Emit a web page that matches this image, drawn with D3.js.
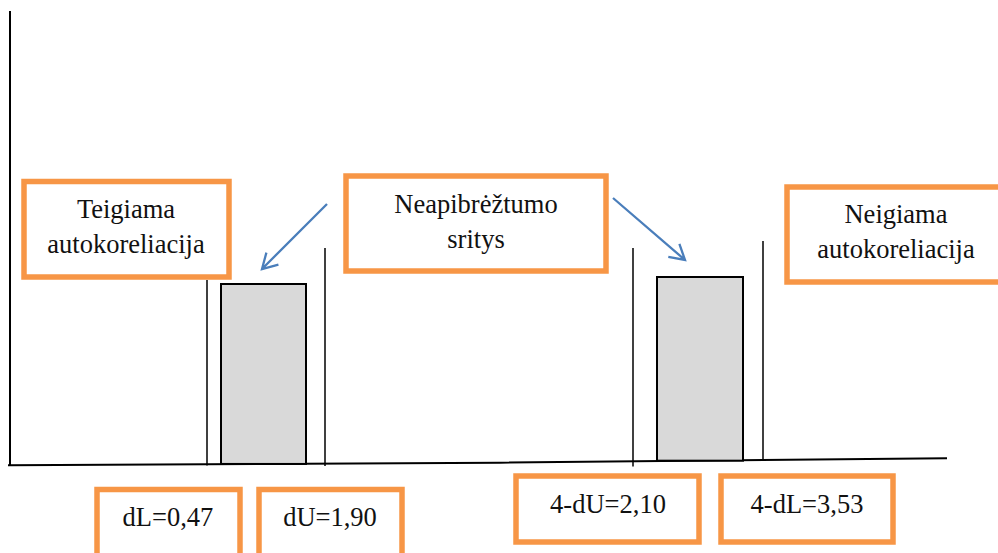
<!DOCTYPE html>
<html>
<head>
<meta charset="utf-8">
<script src="https://cdn.jsdelivr.net/npm/d3@7"></script>
<style>
  body { margin: 0; background: #fff; }
</style>
</head>
<body>
<div id="chart"></div>
<script>
// Durbin-Watson critical values
const criticalNames = ["dL", "dU", "4-dU", "4-dL"];
const criticalValues = [0.47, 1.90, 2.10, 3.53];
const regionLabels = [
  ["Teigiama", "autokoreliacija"],
  ["Neapibrėžtumo", "sritys"],
  ["Neigiama", "autokoreliacija"]
];
const uncertainZones = [["dL", "dU"], ["4-dU", "4-dL"]];

const width = 998, height = 553;
const orange = "#F79646", blue = "#4A7EBB";
const serif = "'Liberation Serif', 'Times New Roman', Times, serif";

// schematic (not to scale) position of the DW statistic
const x = d3.scaleLinear()
  .domain([0, ...criticalValues, 4])
  .range([10, 207, 325, 633, 763, 947]);

// hand drawn base line sags slightly to the right
const baseY = d3.scaleLinear()
  .domain([8, 500, 947])
  .range([465.3, 462.7, 458.2]);

const lineTops = [280, 248, 248, 241];
const lineBottoms = [465.5, 466, 466.5, 459.5];
const zoneInsets = [[14, 19], [24, 20]];
const zoneTops = [284, 277];

const regionBoxes = [
  { x: 24, y: 181.5, w: 205, h: 95.5, tx: 126, ty: [218, 253] },
  { x: 346, y: 176, w: 260, h: 95, tx: 476, ty: [213, 248] },
  { x: 787, y: 187, w: 222, h: 95, tx: 896, ty: [223, 258] }
];
const valueBoxes = [
  { x: 97, y: 489.5, w: 143, h: 80, tx: 168, ty: 526 },
  { x: 259, y: 489.5, w: 143, h: 80, tx: 330, ty: 526 },
  { x: 516, y: 476, w: 183, h: 66, tx: 608, ty: 513 },
  { x: 721, y: 476, w: 172, h: 66, tx: 807, ty: 513 }
];
const arrows = [
  { from: [327, 204], to: [262, 269] },
  { from: [613, 198], to: [685, 260] }
];

const fmt = d3.formatLocale({ decimal: ",", thousands: " ", grouping: [3], currency: ["", ""] }).format(".2f");

const svg = d3.select("#chart")
  .append("svg")
  .attr("width", width)
  .attr("height", height)
  .style("display", "block");

// axes
svg.append("line")
  .attr("x1", 10).attr("x2", 10)
  .attr("y1", 11).attr("y2", 466)
  .attr("stroke", "#000")
  .attr("stroke-width", 2);

svg.append("path")
  .attr("d", d3.line()([[8, baseY(8)], [500, baseY(500)], [947, baseY(947)]]))
  .attr("fill", "none")
  .attr("stroke", "#000")
  .attr("stroke-width", 2);

// zones of uncertainty
uncertainZones.forEach((z, i) => {
  const x0 = x(criticalValues[criticalNames.indexOf(z[0])]) + zoneInsets[i][0];
  const x1 = x(criticalValues[criticalNames.indexOf(z[1])]) - zoneInsets[i][1];
  svg.append("rect")
    .attr("x", x0)
    .attr("y", zoneTops[i])
    .attr("width", x1 - x0)
    .attr("height", baseY((x0 + x1) / 2) - zoneTops[i])
    .attr("fill", "#D9D9D9")
    .attr("stroke", "#000")
    .attr("stroke-width", 2);
});

// critical value lines
svg.selectAll(".crit")
  .data(criticalValues)
  .join("line")
  .attr("class", "crit")
  .attr("x1", d => x(d)).attr("x2", d => x(d))
  .attr("y1", (d, i) => lineTops[i])
  .attr("y2", (d, i) => lineBottoms[i])
  .attr("stroke", "#000")
  .attr("stroke-width", 1.5);

// arrows
arrows.forEach(a => {
  const [x0, y0] = a.from, [x1, y1] = a.to;
  const ang = Math.atan2(y0 - y1, x0 - x1);
  const len = 17, spread = Math.PI / 6;
  const barb = s => [x1 + len * Math.cos(ang + s), y1 + len * Math.sin(ang + s)];
  svg.append("path")
    .attr("d", `M${x0},${y0}L${x1},${y1}M${barb(spread)}L${x1},${y1}L${barb(-spread)}`)
    .attr("fill", "none")
    .attr("stroke", blue)
    .attr("stroke-width", 2.3);
});

// region labels
regionLabels.forEach((lines, i) => {
  const b = regionBoxes[i];
  svg.append("rect")
    .attr("x", b.x).attr("y", b.y)
    .attr("width", b.w).attr("height", b.h)
    .attr("fill", "#fff")
    .attr("stroke", orange)
    .attr("stroke-width", 5.5);
  lines.forEach((t, j) => {
    svg.append("text")
      .attr("x", b.tx)
      .attr("y", b.ty[j])
      .attr("text-anchor", "middle")
      .attr("font-family", serif)
      .attr("font-size", "26.5px")
      .attr("fill", "#111")
      .text(t);
  });
});

// critical value labels
criticalNames.forEach((name, i) => {
  const b = valueBoxes[i];
  svg.append("rect")
    .attr("x", b.x).attr("y", b.y)
    .attr("width", b.w).attr("height", b.h)
    .attr("fill", "#fff")
    .attr("stroke", orange)
    .attr("stroke-width", 5.5);
  svg.append("text")
    .attr("x", b.tx)
    .attr("y", b.ty)
    .attr("text-anchor", "middle")
    .attr("font-family", serif)
    .attr("font-size", "26.5px")
    .attr("fill", "#111")
    .text(`${name}=${fmt(criticalValues[i])}`);
});
</script>
</body>
</html>
